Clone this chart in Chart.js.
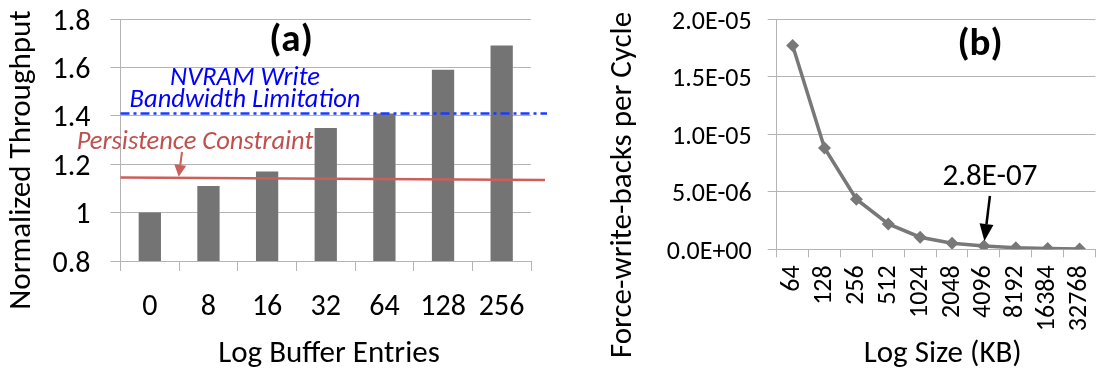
<!DOCTYPE html>
<html>
<head>
<meta charset="utf-8">
<script src="https://cdn.jsdelivr.net/npm/chart.js@4.4.0/dist/chart.umd.min.js"></script>
<style>
  html, body { margin: 0; padding: 0; background: #fff; }
  #wrap { position: relative; width: 1102px; height: 371px; overflow: hidden; }
  #pa { position: absolute; left: 0; top: 0; }
  #pb { position: absolute; left: 550px; top: 0; }
</style>
</head>
<body>
<div id="wrap">
  <canvas id="pa" width="550" height="371"></canvas>
  <canvas id="pb" width="552" height="371"></canvas>
</div>
<script>
// ---- Panel (a): normalized throughput vs. log buffer entries ----
const bufferEntries = ['0', '8', '16', '32', '64', '128', '256'];
const throughput = [1.00, 1.11, 1.17, 1.35, 1.41, 1.59, 1.69];
const throughputTicks = ['0.8', '1', '1.2', '1.4', '1.6', '1.8'];
const nvramBandwidthLimit = 1.41;
const persistenceLimit = [1.145, 1.135]; // left end, right end

// ---- Panel (b): force-write-backs per cycle vs. log size ----
const logSizesKB = ['64', '128', '256', '512', '1024', '2048', '4096', '8192', '16384', '32768'];
const writeBacksPerCycle = [1.77e-5, 8.8e-6, 4.35e-6, 2.2e-6, 1.05e-6, 5.2e-7, 2.8e-7, 1.4e-7, 7e-8, 3e-8];
const writeBackTicks = ['0.0E+00', '5.0E-06', '1.0E-05', '1.5E-05', '2.0E-05'];
const calloutIndex = 6; // 4096 KB

const FONT = 'Carlito, Lato, sans-serif';
const GRID = '#b4b4b4';

// Excel-style scientific notation, e.g. 2.8E-07
function sci(v) {
  const [m, e] = v.toExponential(1).split('e');
  const n = parseInt(e, 10);
  return m + 'E' + (n < 0 ? '-' : '+') + String(Math.abs(n)).padStart(2, '0');
}

function arrow(ctx, x1, y1, x2, y2, color, w, hl, hw) {
  const ang = Math.atan2(y2 - y1, x2 - x1);
  const bx = x2 - hl * Math.cos(ang), by = y2 - hl * Math.sin(ang);
  ctx.strokeStyle = color; ctx.fillStyle = color; ctx.lineWidth = w;
  ctx.beginPath(); ctx.moveTo(x1, y1); ctx.lineTo(bx, by); ctx.stroke();
  ctx.beginPath(); ctx.moveTo(x2, y2);
  ctx.lineTo(bx + hw * Math.sin(ang), by - hw * Math.cos(ang));
  ctx.lineTo(bx - hw * Math.sin(ang), by + hw * Math.cos(ang));
  ctx.closePath(); ctx.fill();
}

function text(ctx, s, x, y, font, color, rot) {
  ctx.save();
  ctx.font = font; ctx.fillStyle = color;
  ctx.textAlign = 'center'; ctx.textBaseline = 'middle';
  ctx.translate(x, y);
  if (rot) ctx.rotate(rot);
  ctx.fillText(s, 0, 0);
  ctx.restore();
}

// Fixed axis box sizes; tick-label overhang must not shrink the plot area
function fixBox(size) {
  return function (s) {
    if (s.isHorizontal()) s.height = size; else s.width = size;
    s.paddingTop = 0; s.paddingBottom = 0; s.paddingLeft = 0; s.paddingRight = 0;
  };
}

const panelAExtras = {
  id: 'panelAExtras',
  afterDraw(chart) {
    const { ctx, chartArea: a, scales: { y } } = chart;
    ctx.save();
    // NVRAM write bandwidth limit (dash-dot)
    const yb = y.getPixelForValue(nvramBandwidthLimit);
    ctx.strokeStyle = '#1a3cff'; ctx.lineWidth = 2.5;
    ctx.setLineDash([9, 4, 3, 4]);
    ctx.beginPath(); ctx.moveTo(a.left, yb); ctx.lineTo(a.right + 16, yb); ctx.stroke();
    ctx.setLineDash([]);
    // Persistence constraint
    const xr = a.right + 14;
    const yl = y.getPixelForValue(persistenceLimit[0]);
    const yr = y.getPixelForValue(persistenceLimit[1]);
    ctx.strokeStyle = '#cd5f5a'; ctx.lineWidth = 2.5;
    ctx.beginPath(); ctx.moveTo(a.left, yl); ctx.lineTo(xr, yr); ctx.stroke();
    const tipX = 178.7;
    const tipY = yl + (yr - yl) * (tipX - a.left) / (xr - a.left);
    arrow(ctx, 182, 152, tipX, tipY - 1, '#cd5f5a', 2, 12, 6);
    ctx.restore();

    text(ctx, 'NVRAM Write', 245, 78, 'italic 26.5px ' + FONT, '#0000ff');
    text(ctx, 'Bandwidth Limitation', 245, 100, 'italic 26.5px ' + FONT, '#0000ff');
    text(ctx, 'Persistence Constraint', 195, 142, 'italic 26.5px ' + FONT, '#c0504d');
    text(ctx, '(a)', 291, 41, 'bold 39px ' + FONT, '#000');
    text(ctx, 'Normalized Throughput', 22.5, 160, '31px ' + FONT, '#000', -Math.PI / 2);
    text(ctx, 'Log Buffer Entries', 329, 354, '31px ' + FONT, '#000');
  }
};

const panelBExtras = {
  id: 'panelBExtras',
  afterDraw(chart) {
    const { ctx } = chart;
    ctx.save();
    const pt = chart.getDatasetMeta(0).data[calloutIndex];
    arrow(ctx, pt.x + 6, 196, pt.x + 0.5, pt.y - 5, '#000', 2.5, 17, 7);
    ctx.restore();
    text(ctx, sci(writeBacksPerCycle[calloutIndex]), 440, 177, '31px ' + FONT, '#000');
    text(ctx, '(b)', 430, 45, 'bold 39px ' + FONT, '#000');
    text(ctx, 'Force-write-backs per Cycle', 73, 185, '31px ' + FONT, '#000', -Math.PI / 2);
    text(ctx, 'Log Size (KB)', 392.7, 354, '31px ' + FONT, '#000');
  }
};

Chart.defaults.font.family = FONT;
Chart.defaults.color = '#000';

new Chart(document.getElementById('pa'), {
  type: 'bar',
  data: {
    labels: bufferEntries,
    datasets: [{
      data: throughput,
      backgroundColor: '#747474',
      borderWidth: 0,
      barPercentage: 0.38,
      categoryPercentage: 1.0
    }]
  },
  options: {
    responsive: false,
    animation: false,
    layout: { padding: { left: 0, right: 19, top: 19, bottom: 0 } },
    plugins: { legend: { display: false }, tooltip: { enabled: false } },
    scales: {
      x: {
        grid: { offset: true, drawOnChartArea: false, color: GRID, tickLength: 10 },
        border: { color: GRID },
        ticks: { font: { size: 30 }, padding: 18, maxRotation: 0 },
        afterFit: fixBox(110)
      },
      y: {
        min: 0.8, max: 1.8,
        grid: { color: GRID, tickLength: 10 },
        border: { color: GRID },
        ticks: {
          stepSize: 0.2, font: { size: 30 }, padding: 20, labelOffset: 3,
          callback: (v, i) => throughputTicks[i]
        },
        afterFit: fixBox(120.5)
      }
    }
  },
  plugins: [panelAExtras]
});

new Chart(document.getElementById('pb'), {
  type: 'line',
  data: {
    labels: logSizesKB,
    datasets: [{
      data: writeBacksPerCycle,
      borderColor: '#787878',
      backgroundColor: '#787878',
      borderWidth: 3.5,
      pointStyle: 'rectRot',
      pointRadius: 6.5,
      pointBorderWidth: 0,
      tension: 0
    }]
  },
  options: {
    responsive: false,
    animation: false,
    layout: { padding: { left: 0, right: 5, top: 19, bottom: 0 } },
    plugins: { legend: { display: false }, tooltip: { enabled: false } },
    scales: {
      x: {
        offset: true,
        grid: { offset: true, drawOnChartArea: false, color: GRID, tickLength: 8 },
        border: { color: GRID },
        ticks: { font: { size: 26 }, padding: 8, minRotation: 90, maxRotation: 90, autoSkip: false },
        afterFit: fixBox(121.7)
      },
      y: {
        min: 0, max: 2e-5,
        grid: { color: GRID, tickLength: 9 },
        border: { color: GRID },
        ticks: {
          stepSize: 5e-6, font: { size: 26 }, padding: 16, labelOffset: 3,
          callback: (v, i) => writeBackTicks[i]
        },
        afterFit: fixBox(226.7)
      }
    }
  },
  plugins: [panelBExtras]
});
</script>
</body>
</html>
